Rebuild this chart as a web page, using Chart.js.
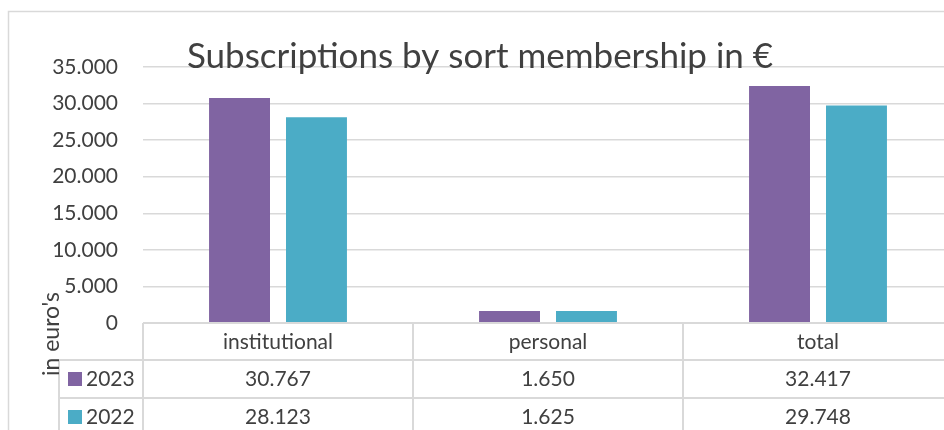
<!DOCTYPE html>
<html>
<head>
<meta charset="utf-8">
<script src="https://cdn.jsdelivr.net/npm/chart.js@4.4.1/dist/chart.umd.min.js"></script>
<style>
  html, body { margin: 0; padding: 0; background: #fff; }
  #wrap { width: 944px; height: 430px; overflow: hidden; position: relative; }
  canvas { display: block; }
</style>
</head>
<body>
<div id="wrap"><canvas id="chart" width="980" height="430"></canvas></div>
<script>
// Subscriptions by membership type, 2023 vs 2022 (euro)
const categories = ['institutional', 'personal', 'total'];
const years = ['2023', '2022'];
const values2023 = [30767, 1650, 32417];
const values2022 = [28123, 1625, 29748];
const yTicks = [0, 5000, 10000, 15000, 20000, 25000, 30000, 35000];

const FONT = 'Lato, "Open Sans", sans-serif';
const TEXT = '#404040';
const LINE = '#d9d9d9';

function fmt(n) {
  return String(n).replace(/\B(?=(\d{3})+(?!\d))/g, '.');
}

// outer frame + title + axis title + data table under the plot
const excelBits = {
  id: 'excelBits',
  beforeDraw(chart) {
    const ctx = chart.ctx;
    ctx.save();
    ctx.strokeStyle = LINE;
    ctx.lineWidth = 1.5;
    ctx.strokeRect(8.5, 11.5, chart.width, chart.height);
    ctx.restore();
  },
  afterDraw(chart) {
    const ctx = chart.ctx;
    const x = chart.scales.x;
    const area = chart.chartArea;
    const colW = x.getPixelForValue(1) - x.getPixelForValue(0);
    const left = area.left, right = area.right;
    const rows = [area.bottom, area.bottom + 37, area.bottom + 75, area.bottom + 113];
    const keyLeft = 59;

    ctx.save();
    ctx.strokeStyle = LINE;
    ctx.lineWidth = 2;
    ctx.beginPath();
    ctx.moveTo(left, rows[0]); ctx.lineTo(right, rows[0]);
    ctx.moveTo(keyLeft, rows[1]); ctx.lineTo(right, rows[1]);
    ctx.moveTo(keyLeft, rows[2]); ctx.lineTo(right, rows[2]);
    ctx.moveTo(keyLeft, rows[1]); ctx.lineTo(keyLeft, chart.height);
    for (let i = 0; i <= categories.length; i++) {
      const cx = x.getPixelForValue(i) - colW / 2;
      ctx.moveTo(cx, rows[0]); ctx.lineTo(cx, chart.height);
    }
    ctx.stroke();

    ctx.fillStyle = TEXT;
    ctx.font = '21px ' + FONT;
    ctx.textAlign = 'center';
    ctx.textBaseline = 'middle';
    categories.forEach((c, i) => {
      ctx.fillText(c, x.getPixelForValue(i), (rows[0] + rows[1]) / 2 + 1);
    });
    chart.data.datasets.forEach((ds, r) => {
      const cy = (rows[r + 1] + rows[r + 2]) / 2;
      ds.data.forEach((v, i) => {
        ctx.fillStyle = TEXT;
        ctx.textAlign = 'center';
        ctx.fillText(fmt(v), x.getPixelForValue(i), cy);
      });
      ctx.fillStyle = ds.backgroundColor;
      ctx.fillRect(68, cy - 7, 14, 14);
      ctx.fillStyle = TEXT;
      ctx.textAlign = 'left';
      ctx.fillText(ds.label, 86, cy);
    });

    // axis title
    ctx.save();
    ctx.translate(52, 334);
    ctx.rotate(-Math.PI / 2);
    ctx.textAlign = 'center';
    ctx.font = '23px ' + FONT;
    ctx.fillText("in euro's", 0, 0);
    ctx.restore();

    // chart title
    ctx.font = '35px ' + FONT;
    ctx.textAlign = 'center';
    ctx.textBaseline = 'alphabetic';
    ctx.fillText('Subscriptions by sort membership in \u20ac', 480, 68);
    ctx.restore();
  }
};

new Chart(document.getElementById('chart'), {
  type: 'bar',
  data: {
    labels: categories,
    datasets: [
      { label: years[0], data: values2023, backgroundColor: '#8064a2' },
      { label: years[1], data: values2022, backgroundColor: '#4bacc6' },
    ],
  },
  options: {
    responsive: false,
    animation: false,
    layout: { padding: { top: 67, bottom: 107, left: 0, right: 27 } },
    datasets: { bar: { categoryPercentage: 0.57, barPercentage: 0.792 } },
    plugins: {
      legend: { display: false },
      tooltip: { enabled: false },
      title: { display: false },
    },
    scales: {
      x: { display: false },
      y: {
        min: 0, max: 35000,
        afterFit(scale) { scale.width = 143; },
        afterBuildTicks(scale) { scale.ticks = yTicks.map(v => ({ value: v })); },
        border: { display: false },
        grid: { color: LINE, lineWidth: 1.5, drawTicks: false },
        ticks: {
          padding: 25,
          color: TEXT,
          font: { family: FONT, size: 21 },
          callback: v => fmt(v),
        },
      },
    },
  },
  plugins: [excelBits],
});
</script>
</body>
</html>
